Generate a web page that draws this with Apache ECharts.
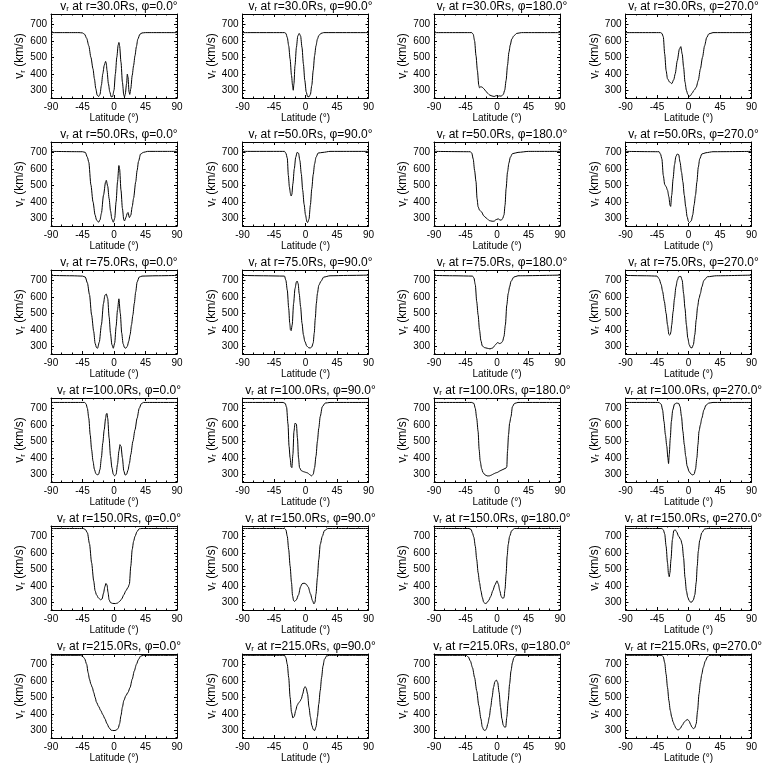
<!DOCTYPE html>
<html><head><meta charset="utf-8">
<script src="https://cdn.jsdelivr.net/npm/echarts@6/dist/echarts.min.js"></script>
<style>html,body{margin:0;padding:0;background:#fff}#c{width:768px;height:768px}</style>
</head><body><div id="c"></div>
<script>
const radii = [30, 50, 75, 100, 150, 215];
const phis = [0, 90, 180, 270];
const xTicks = [-90, -45, 0, 45, 90];
const yTicks = [300, 400, 500, 600, 700];
const yMinorTicks = [260, 280, 320, 340, 360, 380, 420, 440, 460, 480, 520, 540, 560, 580, 620, 640, 660, 680, 720, 740, 760];

// r = 30 Rs
const r30_p0 = [[-90,650],[-50,650],[-45,648],[-42,640],[-39,615],[-36,570],[-33,500],[-30,430],[-28,370],[-26,310],[-24,270],[-22,262],[-20,275],[-18,330],[-16,400],[-14,450],[-12,475],[-11,465],[-10,420],[-8,340],[-6,290],[-4,260],[-2,262],[0,300],[2,400],[4,500],[6,575],[7,590],[8,570],[10,470],[12,350],[14,270],[15,260],[16,275],[18,340],[19,398],[20,380],[21.5,290],[22.5,275],[24,310],[26,390],[28,450],[30,510],[32,565],[34,610],[37,640],[40,648],[45,650],[90,650]];
const r30_p90 = [[-90,650],[-30,650],[-28,645],[-26,620],[-24,570],[-22,490],[-20,390],[-18.5,330],[-17.5,300],[-16.5,340],[-15,450],[-13,560],[-11,630],[-9,645],[-7,630],[-5,560],[-3,460],[-1,360],[1,290],[3,262],[5,260],[7,275],[9,330],[11,420],[13,510],[15,570],[17,610],[19,632],[22,645],[26,650],[90,650]];
const r30_p180 = [[-90,650],[-36,650],[-34,640],[-32,600],[-30,510],[-28,420],[-26,330],[-25,315],[-23,322],[-21,318],[-19,310],[-16,295],[-13,280],[-10,270],[-7,265],[-4,262],[-1,268],[1,262],[3,266],[6,264],[9,275],[11,300],[13,360],[15,450],[17,530],[19,575],[21,610],[24,630],[28,645],[35,650],[90,650]];
const r30_p270 = [[-90,650],[-40,650],[-38,645],[-36,625],[-34,520],[-32,420],[-30,370],[-27,350],[-24,340],[-21,365],[-19,400],[-16,480],[-13,550],[-11,565],[-9,520],[-7,440],[-5,350],[-3,300],[-1,275],[1,263],[3,268],[5,282],[8,300],[11,318],[14,360],[17,430],[20,500],[23,570],[26,620],[29,642],[35,650],[90,650]];

// r = 50 Rs
const r50_p0 = [[-90,706],[-45,704],[-41,700],[-38,670],[-36,640],[-33,503],[-30,400],[-27,320],[-25,290],[-22,276],[-20,290],[-18,330],[-15,440],[-12,520],[-11,530],[-9,495],[-7,420],[-5,345],[-3,295],[-1,276],[1,300],[3,400],[5,520],[7,620],[8,600],[10,470],[12,360],[14,290],[15,284],[17,305],[19,330],[20,335],[22,304],[24,318],[26,370],[28,422],[31,520],[33,590],[35,645],[38,690],[42,700],[48,706],[90,706]];
const r50_p90 = [[-90,706],[-30,706],[-28,695],[-26,665],[-24.5,560],[-23,490],[-21.5,450],[-20.5,435],[-19.5,445],[-18,510],[-16,600],[-14,670],[-12,700],[-10,695],[-8,650],[-6,570],[-4,470],[-2,385],[0,320],[2,278],[3,274],[5,295],[7,380],[9,480],[11,565],[13,630],[15,670],[18,696],[25,700],[35,706],[90,706]];
const r50_p180 = [[-90,706],[-38,704],[-36,695],[-34,660],[-32,590],[-30,523],[-28.5,420],[-27,370],[-25,350],[-22,338],[-19,315],[-15,300],[-11,286],[-7,282],[-4,282],[-2,290],[0,294],[2,296],[4,290],[6,288],[8,298],[10,320],[11.5,380],[13,480],[15,580],[17,635],[19,670],[22,692],[30,700],[45,706],[90,706]];
const r50_p270 = [[-90,706],[-42,704],[-40,690],[-38,660],[-36,560],[-34,505],[-32,492],[-30,470],[-28,430],[-26.5,380],[-25.5,372],[-24,440],[-22,540],[-20,625],[-18,675],[-16,690],[-14,686],[-12,640],[-10,580],[-8,520],[-6,440],[-4,370],[-2,310],[0,280],[1.5,274],[4,285],[6,320],[8,380],[10,440],[12,520],[14,610],[16,660],[19,690],[25,698],[35,704],[90,706]];

// r = 75 Rs
const r75_p0 = [[-90,730],[-60,728],[-45,726],[-41,720],[-38,684],[-35,613],[-32,490],[-29,390],[-27,318],[-25,292],[-23.5,288],[-21,325],[-18,430],[-15,560],[-13,610],[-11,617],[-9,590],[-7,480],[-5,380],[-3,310],[-1,288],[1,320],[3,420],[5,520],[7,588],[9,500],[11,380],[13,315],[15,292],[17,288],[19,300],[21,330],[23,370],[25,430],[27,490],[29,560],[31,630],[33,690],[36,720],[40,726],[60,728],[90,730]];
const r75_p90 = [[-90,730],[-60,728],[-30,726],[-28,700],[-26,640],[-24,530],[-22.5,440],[-21.5,400],[-20.5,395],[-19,430],[-17,560],[-15,650],[-13,690],[-12,696],[-10.5,680],[-9,620],[-7,540],[-5,440],[-3,370],[-1,330],[2,300],[5,290],[7,290],[9,296],[11,320],[12.5,380],[14,470],[15.5,560],[17,620],[19,670],[22,694],[26,720],[35,728],[60,730],[90,732]];
const r75_p180 = [[-90,730],[-60,728],[-35,726],[-33,715],[-31,674],[-29,572],[-27,491],[-25,400],[-23,335],[-21,302],[-18,292],[-14,288],[-10,284],[-6,290],[-3,305],[-1,315],[0.5,322],[2,320],[4,316],[6,320],[8,330],[10,360],[12,430],[14,550],[16,620],[18,660],[20,694],[24,720],[30,728],[90,732]];
const r75_p270 = [[-90,730],[-60,728],[-45,726],[-42,710],[-39,674],[-37,633],[-34.5,572],[-32,500],[-30,430],[-28,372],[-27,368],[-26,372],[-25,390],[-24,430],[-22,510],[-20,590],[-18,660],[-16,700],[-14,722],[-11,724],[-9,700],[-7,620],[-5,530],[-3,430],[-1,350],[1,310],[3,292],[5,290],[7,310],[9,370],[11,460],[13,540],[15,590],[17,620],[19,660],[22,700],[27,722],[40,728],[90,732]];

// r = 100 Rs
const r100_p0 = [[-90,736],[-42,736],[-40,728],[-38,700],[-36,640],[-34,540],[-32,450],[-30,380],[-28,330],[-26,305],[-24,296],[-22,300],[-20,330],[-18,400],[-16,490],[-14,570],[-12,640],[-11,666],[-10,670],[-9,640],[-7,520],[-5,410],[-3,340],[-1,300],[1,290],[3,300],[5,360],[7,440],[8.5,480],[10,470],[12,400],[14,320],[16,295],[18,300],[20,325],[22,365],[24,420],[27,500],[30,570],[33,640],[36,700],[39,728],[42,736],[90,736]];
const r100_p90 = [[-90,736],[-32,736],[-29,730],[-27,706],[-25,605],[-23.5,470],[-22,400],[-20.5,345],[-19.5,340],[-18,420],[-16.5,560],[-15,610],[-13,605],[-11.5,520],[-10,400],[-8.5,340],[-6,322],[-3,316],[0,312],[3,308],[6,298],[8.5,290],[11,300],[13,340],[15,410],[17,500],[19,580],[21,650],[24,710],[28,732],[35,736],[90,736]];
const r100_p180 = [[-90,736],[-36,736],[-33,730],[-31,700],[-29,640],[-27,560],[-25.5,450],[-24,380],[-22,335],[-20,310],[-17,296],[-14,290],[-11,290],[-8,295],[-5,302],[-2,308],[1,312],[4,320],[7,326],[10,332],[13,338],[14,345],[15,440],[16.5,540],[18,610],[20,650],[22,710],[25,730],[30,736],[90,736]];
const r100_p270 = [[-90,736],[-42,736],[-39,725],[-37,690],[-35,620],[-33,540],[-31,470],[-29.5,400],[-28.5,365],[-27.5,420],[-26,520],[-24.5,620],[-22.5,690],[-20,726],[-17,732],[-14,730],[-12,710],[-10,650],[-8,560],[-6,480],[-4,410],[-2,350],[1,315],[4,300],[6,296],[8,300],[10,330],[12,400],[13.5,480],[15,560],[17,600],[19,640],[22,690],[25,720],[29,732],[35,736],[90,736]];

// r = 150 Rs
const r150_p0 = [[-90,748],[-44,748],[-41,742],[-38,722],[-35,655],[-32,540],[-29,430],[-27,370],[-25,345],[-22,325],[-19,315],[-17,320],[-15,355],[-13,395],[-11.5,414],[-10,405],[-8.5,360],[-7,315],[-5,298],[-2,293],[2,292],[5,295],[8,305],[11,320],[14,345],[17,370],[20,390],[22,410],[24,520],[26,620],[28,670],[30,700],[33,730],[36,746],[40,748],[90,748]];
const r150_p90 = [[-90,748],[-30,748],[-28,740],[-26,700],[-24,620],[-22,520],[-20,420],[-18.5,340],[-17,310],[-15.5,305],[-13,315],[-10,345],[-7,395],[-5,412],[-2,416],[1,410],[4,392],[7,352],[10,310],[12,290],[13.5,300],[15,350],[17,450],[19,560],[21,650],[24,700],[27,735],[32,748],[90,748]];
const r150_p180 = [[-90,748],[-40,748],[-37,742],[-35,720],[-33,694],[-31,640],[-29,560],[-27,480],[-25,420],[-23,370],[-21,330],[-19,300],[-17,292],[-15,295],[-12,310],[-9,335],[-6,370],[-3,405],[0,430],[2,410],[4,370],[6,335],[8,324],[10,328],[11.5,380],[13,470],[14.5,580],[16,650],[18,700],[21,735],[25,748],[90,748]];
const r150_p270 = [[-90,748],[-38,748],[-36,740],[-34,715],[-32,640],[-30,540],[-28.5,470],[-27.5,455],[-26.5,480],[-25,560],[-23,680],[-21,735],[-19,740],[-17,728],[-14,700],[-11,680],[-9,650],[-7,570],[-5,450],[-3,370],[-1,330],[1,310],[3,300],[5,302],[7,315],[9,345],[11,420],[12.5,520],[14,610],[16,675],[19,722],[23,745],[28,748],[90,748]];

// r = 215 Rs
const r215_p0 = [[-90,755],[-48,755],[-45,750],[-42,735],[-39,700],[-37,650],[-35,610],[-33,580],[-31,560],[-29,530],[-27,500],[-25,470],[-22,445],[-19,420],[-16,395],[-13,370],[-10,340],[-7,315],[-4,300],[0,298],[3,300],[6,312],[8,340],[10,390],[12,440],[14,480],[17,510],[20,530],[23,560],[26,610],[29,660],[32,700],[35,730],[38,750],[42,755],[90,755]];
const r215_p90 = [[-90,755],[-30,755],[-28,740],[-26,700],[-24,620],[-22,500],[-20,410],[-18,375],[-16,385],[-14,420],[-12,450],[-10,465],[-8,475],[-6,490],[-4,520],[-2,555],[-0.5,565],[1,555],[3,520],[5,440],[7,380],[9,330],[11,305],[13,298],[15,320],[17,380],[19,460],[21,540],[23,620],[25,690],[27,730],[30,750],[34,755],[90,755]];
const r215_p180 = [[-90,755],[-44,755],[-41,745],[-38,720],[-35,680],[-32,620],[-29,540],[-26,450],[-23,370],[-21,320],[-19,302],[-17,298],[-15,310],[-13,340],[-11,380],[-9,440],[-7,500],[-5,560],[-3,595],[-1,605],[1,590],[3,530],[5,440],[7,370],[9,330],[11,318],[12.5,320],[14,380],[16,480],[18,580],[20,660],[22,710],[24,740],[27,755],[90,755]];
const r215_p270 = [[-90,755],[-38,755],[-36,745],[-34,710],[-32,640],[-30,560],[-28,480],[-26,420],[-24,380],[-22,350],[-20,330],[-18,312],[-15,300],[-12,310],[-9,330],[-6,350],[-3,362],[-1,365],[1,355],[3,335],[5,318],[7,310],[9,315],[11,340],[13,420],[15,520],[17,590],[19,640],[21,680],[24,720],[27,745],[30,755],[90,755]];

const curves = [
  [r30_p0, r30_p90, r30_p180, r30_p270],
  [r50_p0, r50_p90, r50_p180, r50_p270],
  [r75_p0, r75_p90, r75_p180, r75_p270],
  [r100_p0, r100_p90, r100_p180, r100_p270],
  [r150_p0, r150_p90, r150_p180, r150_p270],
  [r215_p0, r215_p90, r215_p180, r215_p270]
];

const FONT = 'Liberation Sans';
const INK = '#000';
const YMIN = 253, YMAX = 763;
const richT = {
  t: {fontFamily: FONT, fontSize: 12, fontWeight: 'normal', color: INK},
  s: {fontFamily: FONT, fontSize: 8, fontWeight: 'normal', color: INK, padding: [5, 0, 0, 0]}
};
const richY = {
  t: {fontFamily: FONT, fontSize: 12, color: INK},
  s: {fontFamily: FONT, fontSize: 8, color: INK, padding: [5, 0, 0, 0]}
};

const grids = [], xAxes = [], yAxes = [], series = [], titles = [];
radii.forEach((r, j) => {
  phis.forEach((p, k) => {
    const gi = grids.length;
    const left = 51 + 191.5 * k;
    const top = 14 + 128 * j;
    grids.push({left: left, top: top, width: 126, height: 84, show: false, containLabel: false});
    titles.push({
      text: '{t|v}{s|r}{t| at r=' + r.toFixed(1) + 'Rs, φ=' + p.toFixed(1) + '°}',
      left: left + 63, top: top - 19, textAlign: 'center',
      textStyle: {fontWeight: 'normal', rich: richT}
    });
    const tickLine = {color: INK, width: 1};
    ['bottom', 'top'].forEach(pos => {
      const bottom = pos === 'bottom';
      xAxes.push({
        gridIndex: gi, type: 'value', position: pos, min: -90, max: 90, interval: 45,
        axisLine: {show: true, onZero: false, lineStyle: tickLine},
        axisTick: {show: true, inside: true, length: 3, lineStyle: tickLine},
        minorTick: {show: true, splitNumber: 3, length: 1.5, lineStyle: tickLine},
        splitLine: {show: false},
        axisLabel: {show: bottom, fontFamily: FONT, fontSize: 10, color: INK, margin: 4,
          customValues: xTicks, formatter: v => String(v)},
        name: bottom ? 'Latitude (°)' : '', nameLocation: 'middle', nameGap: 14,
        nameTextStyle: {fontFamily: FONT, fontSize: 10, color: INK}
      });
    });
    ['left', 'right'].forEach(pos => {
      const isLeft = pos === 'left';
      yAxes.push({
        gridIndex: gi, type: 'value', position: pos, min: YMIN, max: YMAX,
        axisLine: {show: true, onZero: false, lineStyle: tickLine},
        axisTick: {show: true, inside: true, length: 3, customValues: yTicks, lineStyle: tickLine},
        splitLine: {show: false},
        axisLabel: {show: isLeft, customValues: yTicks, fontFamily: FONT, fontSize: 10, color: INK, margin: 4},
        name: isLeft ? '{t|v}{s|r}{t| (km/s)}' : '', nameLocation: 'middle', nameRotate: 90, nameGap: 18,
        nameTextStyle: {rich: richY}
      });
      yAxes.push({
        gridIndex: gi, type: 'value', position: pos, min: YMIN, max: YMAX,
        axisLine: {show: false, onZero: false},
        axisTick: {show: true, inside: true, length: 1.5, customValues: yMinorTicks, lineStyle: tickLine},
        splitLine: {show: false},
        axisLabel: {show: false}
      });
    });
    series.push({
      type: 'line', xAxisIndex: 2 * gi, yAxisIndex: 4 * gi,
      data: curves[j][k], showSymbol: false, symbol: 'none',
      smooth: 0.25, smoothMonotone: 'x', clip: true,
      lineStyle: {color: INK, width: 1}
    });
  });
});

const chart = echarts.init(document.getElementById('c'), null, {renderer: 'canvas'});
chart.setOption({
  backgroundColor: '#fff', animation: false,
  title: titles, grid: grids, xAxis: xAxes, yAxis: yAxes, series: series
});
</script>
</body></html>
